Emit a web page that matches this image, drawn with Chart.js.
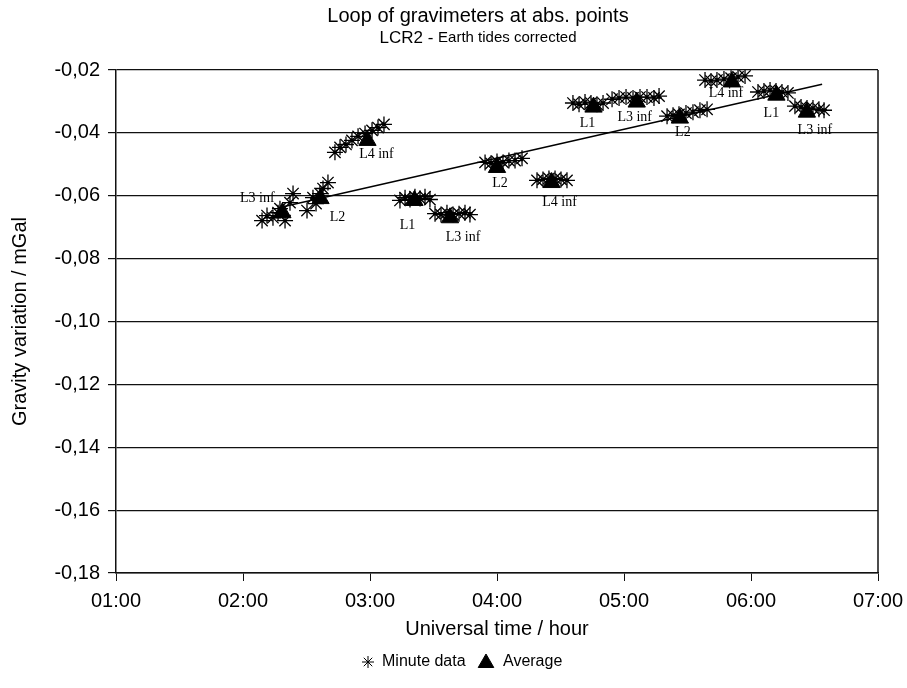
<!DOCTYPE html>
<html>
<head>
<meta charset="utf-8">
<script src="https://cdn.jsdelivr.net/npm/chart.js@4.4.1/dist/chart.umd.min.js"></script>
<style>
html, body { margin: 0; padding: 0; background: #fff; }
</style>
</head>
<body>
<canvas id="chart" width="907" height="688"></canvas>
<script>
// average of each station occupation (hours UT, mGal)
const stationNames = ['L3 inf', 'L2', 'L4 inf', 'L1', 'L3 inf', 'L2', 'L4 inf', 'L1', 'L3 inf', 'L2', 'L4 inf', 'L1', 'L3 inf'];
const avgTime = [2.31, 2.61, 2.98, 3.35, 3.63, 4.00, 4.43, 4.76, 5.10, 5.44, 5.85, 6.20, 6.44];
const avgValue = [-0.0654, -0.0609, -0.0424, -0.0615, -0.0670, -0.0510, -0.0558, -0.0318, -0.0302, -0.0353, -0.0238, -0.0280, -0.0334];

// minute readings
const minuteTime = [
	2.150, 2.189, 2.236, 2.276, 2.291, 2.331, 2.370, 2.394,
	2.504, 2.551, 2.575, 2.606, 2.630, 2.669,
	2.724, 2.764, 2.811, 2.858, 2.906, 2.961, 3.016, 3.063, 3.110,
	3.236, 3.276, 3.315, 3.354, 3.394, 3.433, 3.472,
	3.512, 3.559, 3.606, 3.654, 3.701, 3.748, 3.787,
	3.906, 3.953, 4.000, 4.047, 4.094, 4.142, 4.197,
	4.315, 4.362, 4.409, 4.457, 4.504, 4.551,
	4.598, 4.646, 4.693, 4.740, 4.787, 4.835,
	4.906, 4.961, 5.016, 5.071, 5.126, 5.181, 5.236, 5.276,
	5.339, 5.386, 5.433, 5.488, 5.543, 5.598, 5.654,
	5.638, 5.685, 5.732, 5.787, 5.843, 5.898, 5.953,
	6.055, 6.102, 6.150, 6.197, 6.244, 6.291,
	6.346, 6.394, 6.441, 6.488, 6.535, 6.575
];
const minuteValue = [
	-0.0679, -0.0663, -0.0670, -0.0654, -0.0641, -0.0679, -0.0622, -0.0593,
	-0.0647, -0.0606, -0.0625, -0.0593, -0.0577, -0.0558,
	-0.0462, -0.0446, -0.0437, -0.0424, -0.0411, -0.0402, -0.0392, -0.0383, -0.0373,
	-0.0615, -0.0606, -0.0612, -0.0603, -0.0609, -0.0603, -0.0612,
	-0.0657, -0.0660, -0.0654, -0.0660, -0.0657, -0.0654, -0.0660,
	-0.0494, -0.0497, -0.0491, -0.0494, -0.0488, -0.0488, -0.0481,
	-0.0551, -0.0548, -0.0545, -0.0545, -0.0548, -0.0551,
	-0.0305, -0.0309, -0.0302, -0.0305, -0.0309, -0.0305,
	-0.0293, -0.0289, -0.0286, -0.0289, -0.0286, -0.0286, -0.0289, -0.0283,
	-0.0347, -0.0344, -0.0341, -0.0337, -0.0334, -0.0328, -0.0325,
	-0.0232, -0.0235, -0.0232, -0.0229, -0.0226, -0.0222, -0.0219,
	-0.0270, -0.0267, -0.0264, -0.0267, -0.0270, -0.0273,
	-0.0315, -0.0318, -0.0321, -0.0321, -0.0325, -0.0328
];

// drift line
const trendTime = [2.315, 6.56];
const trendValue = [-0.0635, -0.0245];

const sans = '"Liberation Sans", Arial, sans-serif';

const toPoints = (xs, ys) => xs.map((x, i) => ({ x: x, y: ys[i] }));

// station names next to the averages, offsets in px
const labelOffsets = [[-25, -14], [17, 19], [9, 14], [-7, 25], [13, 20], [3, 16], [8, 20], [-6, 16], [-2, 15], [3, 14], [-6, 11], [-5, 18], [8, 18]];

const stationLabels = {
	id: 'stationLabels',
	afterDatasetsDraw(chart) {
		const meta = chart.getDatasetMeta(1);
		const ctx = chart.ctx;
		ctx.save();
		ctx.font = '14px "Liberation Serif", "Times New Roman", serif';
		ctx.fillStyle = '#000';
		ctx.textAlign = 'center';
		ctx.textBaseline = 'middle';
		meta.data.forEach((pt, i) => {
			ctx.fillText(stationNames[i], pt.x + labelOffsets[i][0], pt.y + labelOffsets[i][1]);
		});
		ctx.restore();
	}
};

const titles = {
	id: 'titles',
	afterDraw(chart) {
		const ctx = chart.ctx;
		const cx = 478;
		ctx.save();
		ctx.fillStyle = '#000';
		ctx.textBaseline = 'middle';
		ctx.textAlign = 'center';
		ctx.font = '20px ' + sans;
		ctx.fillText('Loop of gravimeters at abs. points', cx, 16);
		// subtitle with two font sizes
		const a = 'LCR2 - ', b = 'Earth tides corrected';
		ctx.font = '17px ' + sans;
		const wa = ctx.measureText(a).width;
		ctx.font = '15px ' + sans;
		const wb = ctx.measureText(b).width;
		const x0 = cx - (wa + wb) / 2;
		ctx.textAlign = 'left';
		ctx.font = '17px ' + sans;
		ctx.fillText(a, x0, 38);
		ctx.font = '15px ' + sans;
		ctx.fillText(b, x0 + wa, 38);
		// frame on the right side
		const area = chart.chartArea;
		ctx.strokeStyle = '#111';
		ctx.lineWidth = 1.5;
		ctx.beginPath();
		ctx.moveTo(area.right, area.top);
		ctx.lineTo(area.right, area.bottom);
		ctx.stroke();
		ctx.restore();
	}
};

// legend below the axis title, drawn with the library's point shapes
const bottomLegend = {
	id: 'bottomLegend',
	afterDraw(chart) {
		const ctx = chart.ctx;
		const y = 662;
		const items = [
			{ ds: chart.data.datasets[0], x: 368, r: 6 },
			{ ds: chart.data.datasets[1], x: 486, r: 9 }
		];
		ctx.save();
		ctx.font = '16px ' + sans;
		ctx.textBaseline = 'middle';
		ctx.textAlign = 'left';
		items.forEach(it => {
			ctx.fillStyle = '#000';
			ctx.strokeStyle = '#000';
			ctx.lineWidth = 1;
			Chart.helpers.drawPoint(ctx, { pointStyle: it.ds.pointStyle, radius: it.r, borderWidth: 1, rotation: 0 }, it.x, y + (it.r > 6 ? 1 : 0));
			ctx.fillText(it.ds.label, it.x + it.r + 8, y);
		});
		ctx.restore();
	}
};

new Chart(document.getElementById('chart'), {
	type: 'scatter',
	data: {
		datasets: [
			{
				label: 'Minute data',
				data: toPoints(minuteTime, minuteValue),
				pointStyle: 'star',
				radius: 8,
				borderColor: '#000',
				backgroundColor: '#000',
				borderWidth: 1.3,
				order: 1
			},
			{
				label: 'Average',
				data: toPoints(avgTime, avgValue),
				pointStyle: 'triangle',
				radius: 10,
				borderColor: '#000',
				backgroundColor: '#000',
				borderWidth: 1,
				order: 0
			},
			{
				type: 'line',
				label: 'trend',
				data: toPoints(trendTime, trendValue),
				borderColor: '#000',
				borderWidth: 1.5,
				pointRadius: 0,
				fill: false,
				order: 2
			}
		]
	},
	options: {
		responsive: false,
		animation: false,
		layout: { padding: { top: 70, right: 29, left: 0, bottom: 47 } },
		plugins: {
			tooltip: { enabled: false },
			legend: { display: false }
		},
		scales: {
			x: {
				type: 'linear',
				min: 1,
				max: 7,
				afterFit: s => { s.height = 68; s.paddingRight = 0; },
				ticks: {
					stepSize: 1,
					color: '#000',
					padding: 8,
					font: { family: sans, size: 20 },
					callback: v => '0' + v + ':00'
				},
				grid: { drawOnChartArea: false, color: '#111', tickLength: 8 },
				border: { color: '#111', width: 1.5 },
				title: {
					display: true,
					text: 'Universal time / hour',
					color: '#000',
					font: { family: sans, size: 20 },
					padding: { top: 2, bottom: 0 }
				}
			},
			y: {
				min: -0.18,
				max: -0.02,
				afterFit: s => { s.width = 116; },
				ticks: {
					stepSize: 0.02,
					color: '#000',
					padding: 8,
					font: { family: sans, size: 20 },
					callback: v => v.toFixed(2).replace('.', ',')
				},
				grid: { color: '#111', lineWidth: 1.2, tickLength: 8 },
				border: { color: '#111', width: 1.5 },
				title: {
					display: true,
					text: 'Gravity variation / mGal',
					color: '#000',
					font: { family: sans, size: 20 },
					padding: { top: 8, bottom: 0 }
				}
			}
		}
	},
	plugins: [stationLabels, titles, bottomLegend]
});
</script>
</body>
</html>
